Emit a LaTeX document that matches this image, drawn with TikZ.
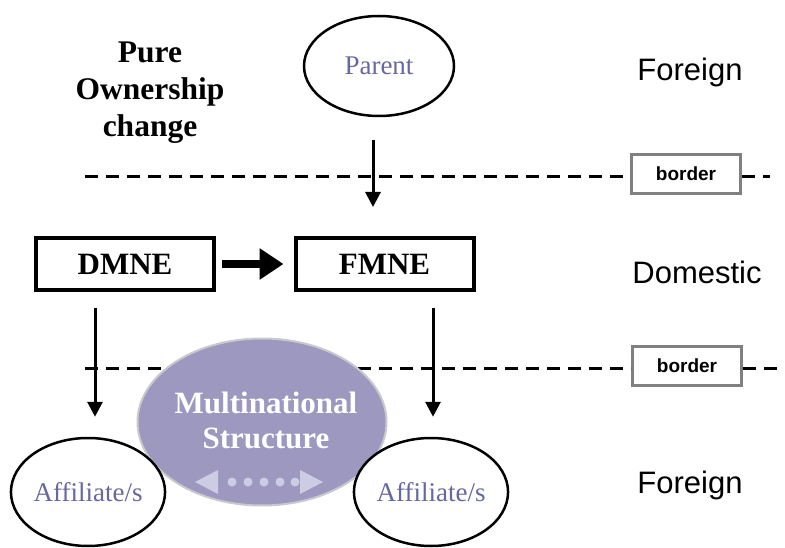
\documentclass[tikz,border=0pt]{standalone}
\usepackage{fontspec}
\setmainfont{Liberation Serif}
\newfontfamily\arialf{Liberation Sans}
\usetikzlibrary{arrows.meta,shapes.geometric}
\definecolor{txtblue}{RGB}{104,104,160}
\definecolor{lav}{RGB}{156,152,192}
\definecolor{lavlight}{RGB}{204,204,226}
\definecolor{lavedge}{RGB}{200,200,205}
\definecolor{bordgray}{RGB}{128,128,128}
\begin{document}
\begin{tikzpicture}[x=1pt,y=-1pt,
  ell/.style={ellipse,draw=black,line width=2.5pt,fill=white,inner sep=0pt,
    text=txtblue,font=\fontsize{27}{30}\selectfont},
  mbox/.style={rectangle,draw=black,line width=4pt,fill=white,inner sep=0pt,
    minimum width=178pt,minimum height=52pt,font=\fontsize{31}{34}\selectfont\bfseries},
  bbox/.style={rectangle,draw=bordgray,line width=3pt,fill=white,inner sep=0pt,
    minimum width=109pt,minimum height=39pt,font=\arialf\bfseries\fontsize{19}{22}\selectfont},
  region/.style={font=\arialf\fontsize{31}{34}\selectfont},
  dashline/.style={line width=3pt,dash pattern=on 13pt off 8pt},
  downarr/.style={line width=3pt,-{Triangle[length=15pt,width=15pt]}},
  bigarr/.style={line width=8pt,-{Triangle[length=24pt,width=30pt]}}
]
\useasboundingbox (0,0) rectangle (785,548);

% borders
\node[bbox] (b1) at (686,174) {border};
\node[bbox] (b2) at (687,366) {border};
\coordinate (d1s) at (85,177);
\coordinate (d1e) at (770,177);
\coordinate (d2s) at (85,368);
\coordinate (d2e) at (785,368);
\draw[dashline] (d1s) -- (d1s -| b1.west);
\draw[dashline] (d1e -| b1.east) -- (d1e);
\draw[dashline] (d2s) -- (d2s -| b2.west);
\draw[dashline] (d2e -| b2.east) -- (d2e);

% texts
\node[align=center,font=\fontsize{31.5}{37}\selectfont\bfseries] (pure) at (150,93) {Pure\\Ownership\\change};
\node[region] (f1) at (690,72) {Foreign};
\node[region] (dom) at (697,272) {Domestic};
\node[region] (f2) at (690,485) {Foreign};

% parent
\node[ell,minimum width=150pt,minimum height=100pt] (parent) at (379,66) {Parent};

% boxes
\node[mbox] (dmne) at (125,264) {DMNE};
\node[mbox] (fmne) at (384.5,264) {FMNE};

% multinational structure
\node[ellipse,fill=lav,draw=lavedge,line width=2pt,minimum width=249pt,minimum height=167pt,inner sep=0pt] (mns) at (262,422) {};
\node[text=white,align=center,font=\fontsize{31}{35}\selectfont\bfseries] (mnstext) at (266,420) {Multinational\\Structure};
\fill[lavlight] (195,482) -- (218,470) -- (218,494) -- cycle;
\fill[lavlight] (323,482) -- (300,470) -- (300,494) -- cycle;
\foreach \xx in {232,248,264,280,295} \fill[lavlight] (\xx,482) circle (4.5pt);

% affiliates
\node[ell,minimum width=146pt,minimum height=108pt] (aff1) at (88,492) {Affiliate/s};
\node[ell,minimum width=143pt,minimum height=108pt] (aff2) at (431,492) {Affiliate/s};

% arrows
\draw[downarr] ([xshift=-6pt,yshift=-23pt]parent.south) -- ([xshift=-11.5pt,yshift=29pt]fmne.north);
\draw[bigarr] ([xshift=6pt]dmne.east) -- ([xshift=-10pt]fmne.west);
\draw[downarr] ([xshift=-30pt,yshift=-16pt]dmne.south) -- ([xshift=7pt,yshift=20pt]aff1.north);
\draw[downarr] ([xshift=48.5pt,yshift=-16pt]fmne.south) -- ([xshift=2pt,yshift=20pt]aff2.north);
\end{tikzpicture}
\end{document}
